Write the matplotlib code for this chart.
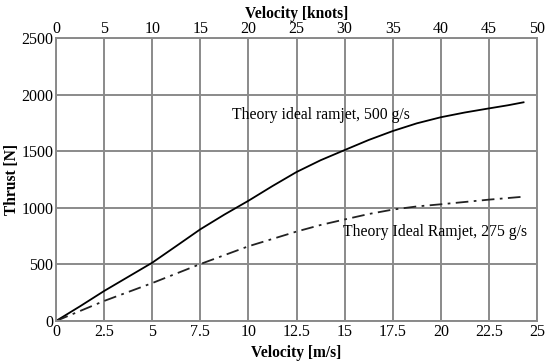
import matplotlib
matplotlib.use("Agg")
import matplotlib.pyplot as plt

# solid curve, 500 g/s
v500 = [0, 1.25, 2.5, 3.75, 5, 6.25, 7.5, 8.75, 10, 11.25, 12.5, 13.75, 15,
        16.25, 17.5, 18.75, 20, 21.25, 22.5, 23.5, 24.3]
t500 = [0, 130, 265, 390, 515, 662, 810, 940, 1062, 1192, 1316, 1420, 1510,
        1599, 1678, 1746, 1800, 1842, 1878, 1906, 1932]
# dash-dot curve, 275 g/s
v275 = [0, 2.5, 5, 7.5, 10, 12.5, 13.75, 15, 16.25, 17.5, 18.75, 20, 22.5, 24.3]
t275 = [0, 177, 335, 503, 660, 790, 848, 897, 945, 984, 1012, 1031, 1072, 1098]

ms_ticks = [0, 2.5, 5, 7.5, 10, 12.5, 15, 17.5, 20, 22.5, 25]
ms_labels = ["0", "2.5", "5", "7.5", "10", "12.5", "15", "17.5", "20", "22.5", "25"]
kn_ticks = [0, 5, 10, 15, 20, 25, 30, 35, 40, 45, 50]
y_ticks = [0, 500, 1000, 1500, 2000, 2500]

GRID = "#8a8a8a"
FS = 11.5
plt.rcParams["font.family"] = ["Liberation Serif", "DejaVu Serif"]

fig = plt.figure(figsize=(5.5, 3.64), dpi=100)
ax = fig.add_axes([56 / 550, 1 - 321 / 364, 481 / 550, 283 / 364])

ax.plot(v500, t500, color="black", lw=1.3, solid_joinstyle="round")
ax.plot(v275, t275, color="#222222", lw=1.3, dashes=(7, 3, 1.5, 3))

ax.set_xlim(0, 25)
ax.set_ylim(0, 2500)
ax.set_xticks(ms_ticks)
ax.set_xticklabels(ms_labels)
ax.set_yticks(y_ticks)
ax.grid(True, color=GRID, lw=1.4)
ax.set_axisbelow(True)
ax.tick_params(length=0, labelsize=FS, pad=2)
for s in ax.spines.values():
    s.set_color(GRID)
    s.set_linewidth(1.4)

ax.set_xlabel("Velocity [m/s]", fontsize=11.2, fontweight="bold", labelpad=4)
ax.set_ylabel("Thrust [N]", fontsize=11.2, fontweight="bold", labelpad=1)

top = ax.twiny()
top.set_xlim(0, 50)
top.set_xticks(kn_ticks)
top.tick_params(length=0, labelsize=FS, pad=1)
top.set_xlabel("Velocity [knots]", fontsize=11.2, fontweight="bold", labelpad=2)
for s in top.spines.values():
    s.set_visible(False)

ax.text(9.15, 1820, "Theory ideal ramjet, 500 g/s", fontsize=11.3, va="center", ha="left")
ax.text(14.9, 786, "Theory Ideal Ramjet, 275 g/s", fontsize=11.3, va="center", ha="left")

fig.savefig("out.png", dpi=100, facecolor="white")
